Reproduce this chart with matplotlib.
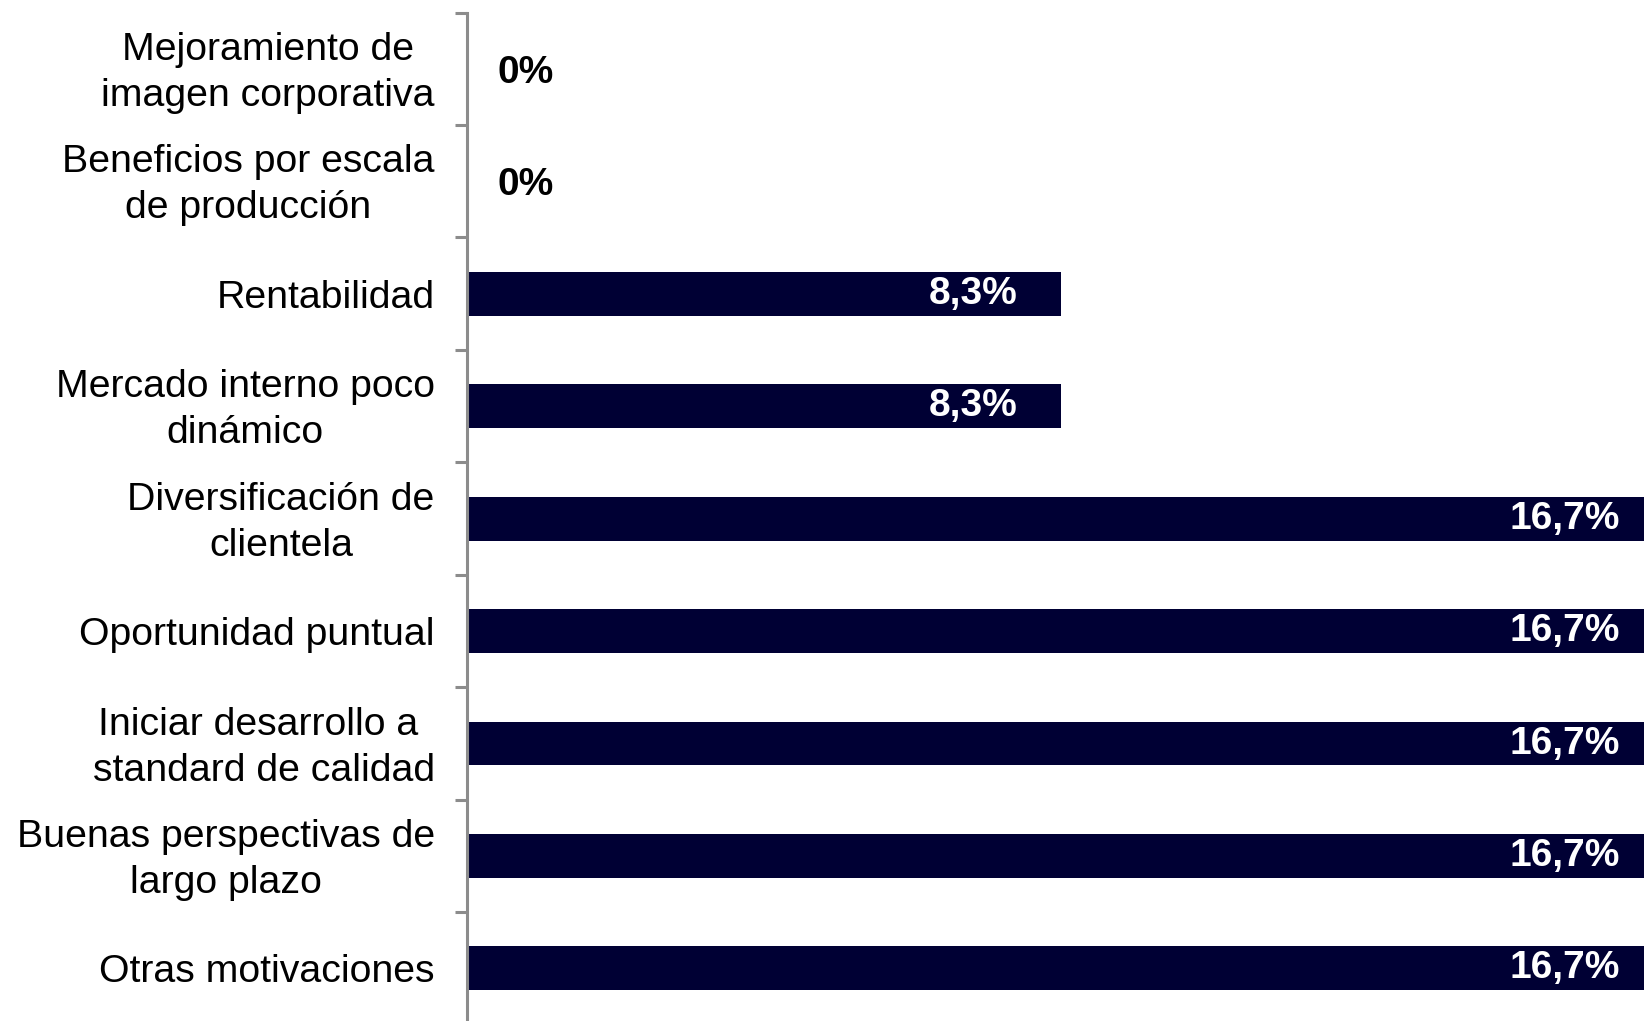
import matplotlib
matplotlib.use("Agg")
import matplotlib.pyplot as plt
from matplotlib.ticker import FixedLocator
from matplotlib.transforms import ScaledTranslation

plt.rcParams['font.family'] = ['Liberation Sans', 'DejaVu Sans']

categories = [
    "Mejoramiento de\nimagen corporativa",
    "Beneficios por escala\nde producción",
    "Rentabilidad",
    "Mercado interno poco\ndinámico",
    "Diversificación de\nclientela",
    "Oportunidad puntual",
    "Iniciar desarrollo a \nstandard de calidad",
    "Buenas perspectivas de\nlargo plazo",
    "Otras motivaciones",
]
values = [0.0, 0.0, 8.3, 8.3, 16.7, 16.7, 16.7, 16.7, 16.7]

W, H, DPI = 1644, 1021, 100
fig = plt.figure(figsize=(W / DPI, H / DPI), dpi=DPI)
ax_left = 466.6 / W
ax_top = 12.6
ax_h = 9 * 112.45
ax = fig.add_axes([ax_left, (H - ax_top - ax_h) / H, 1 - ax_left, ax_h / H])

bar_color = '#000034'
n = len(categories)
ypos = list(range(n))
ax.barh(ypos, values, height=0.39, color=bar_color, zorder=2)

ax.set_xlim(0, 16.44)
ax.set_ylim(n - 0.5, -0.5)

ax.set_yticks(ypos)
ax.set_yticklabels(categories, fontsize=28.3)
ax.tick_params(axis='y', which='major', length=0, pad=23)
ax.yaxis.set_minor_locator(FixedLocator([i - 0.5 for i in range(n + 1)]))
ax.tick_params(axis='y', which='minor', length=8.5, width=2.2, color='#8c8c8c', direction='out')
ax.set_xticks([])
for lab in ax.get_yticklabels():
    lab.set_multialignment('center')
    lab.set_linespacing(1.36)
    if '\n' in lab.get_text():
        lab.set_transform(lab.get_transform() + ScaledTranslation(0, 0.05, fig.dpi_scale_trans))

for s in ['top', 'right', 'bottom']:
    ax.spines[s].set_visible(False)
ax.spines['left'].set_color('#8c8c8c')
ax.spines['left'].set_linewidth(2.2)

for y, v in zip(ypos, values):
    if v == 0:
        ax.annotate("0%", xy=(0, y), xytext=(22, -3), textcoords='offset points',
                    ha='left', va='center', fontsize=28, fontweight='bold', color='black')
    else:
        txt = f"{v:.1f}".replace('.', ',') + '%'
        ax.annotate(txt, xy=(v, y), xytext=(-31, 0), textcoords='offset points',
                    ha='right', va='center', fontsize=28, fontweight='bold', color='white',
                    annotation_clip=False, zorder=3)

fig.savefig("out.png", dpi=DPI)
